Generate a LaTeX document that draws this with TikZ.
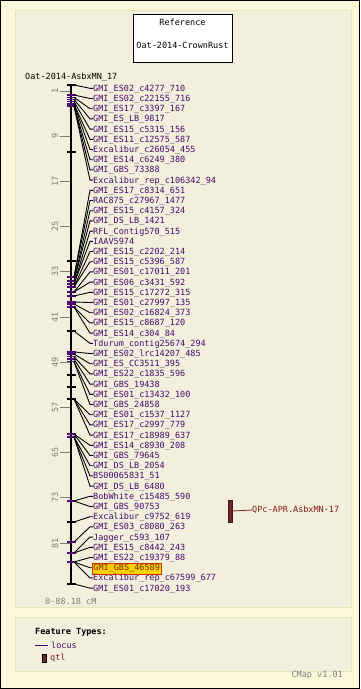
\documentclass[tikz,border=0pt]{standalone}
\usepackage{fontspec}
\setmonofont{DejaVu Sans Mono}
\usetikzlibrary{calc}
\definecolor{outerbg}{RGB}{252,249,218}
\definecolor{innerbg}{RGB}{242,240,221}
\definecolor{innerborder}{RGB}{232,228,184}
\definecolor{locuscol}{RGB}{70,10,110}
\definecolor{tickcol}{RGB}{80,10,120}
\definecolor{scalecol}{RGB}{125,125,125}
\definecolor{qtlfill}{RGB}{110,40,40}
\definecolor{qtltext}{RGB}{130,30,20}
\definecolor{hlfill}{RGB}{250,210,0}
\definecolor{hlborder}{RGB}{210,50,0}
\tikzset{
  txt/.style={font=\ttfamily\fontsize{8.5}{9}\selectfont, inner sep=0pt},
  lbl/.style={txt, text=locuscol, anchor=base west},
  conn/.style={draw=black, line width=0.9pt},
  scalelbl/.style={txt, text=scalecol, rotate=90},
  scaletick/.style={draw=scalecol, line width=0.8pt},
  locustick/.style={draw=tickcol, line width=1.1pt},
  blacktick/.style={draw=black, line width=1.1pt},
  panel/.style={fill=innerbg, draw=innerborder, line width=1pt},
}
\begin{document}
\begin{tikzpicture}[x=1pt,y=-1pt]
\useasboundingbox (0,0) rectangle (360,689);
\fill[outerbg] (0,0) rectangle (360,689);
\draw[black, line width=1pt] (0.5,0.5) rectangle (359.5,688.5);
\draw[panel] (15,10) rectangle (351,607);
\draw[panel] (15,617) rectangle (351,671);

% reference box
\node[draw=black, fill=white, line width=0.8pt, minimum width=99pt, minimum height=48pt, inner sep=0pt] (refbox) at (182.5,38) {};
\node[txt] (reftitle) at (182.5,22) {Reference};
\node[txt] (refname) at (182.5,45) {Oat-2014-CrownRust};

% map title
\node[txt, anchor=west] (maptitle) at (25,77) {Oat-2014-AsbxMN\_17};

% scale
\foreach \v [count=\k from 0] in {1,9,17,25,33,41,49,57,65,73,81}{
  \pgfmathsetmacro\sy{91.05+45.2*\k}
  \coordinate (S\k) at (60,\sy);
  \draw[scaletick] (S\k) -- ++(10,0);
  \node[scalelbl] (SL\k) at (55,\sy) {\v};
}

% axis
\coordinate (axtop) at (71,85);
\coordinate (axbot) at (71,584);
\draw[black, line width=2pt] (axtop) -- (axbot);

% locus ticks
\foreach \ty in {95,97.3,99.3,101.7,104,106,277,281,284,287,292,296,302,304,307,352,354,356.7,359,361.7,434,437,501,542,553,562}{
  \draw[locustick] (67,\ty) -- (76,\ty);
}
\draw[tickcol, line width=2.5pt] (68,501) -- (74,501);
\foreach \ty in {85,152,261,331,375,387,399,522,584}{
  \draw[blacktick] (67,\ty) -- (76,\ty);
}

% loci labels and connectors
\foreach \i/\ty/\lab in {
1/85/GMI\_ES02\_c4277\_710,
2/95/GMI\_ES02\_c22155\_716,
3/97.3/GMI\_ES17\_c3397\_167,
4/99.3/GMI\_ES\_LB\_9817,
5/101.7/GMI\_ES15\_c5315\_156,
6/104/GMI\_ES11\_c12575\_587,
7/104/Excalibur\_c26054\_455,
8/106/GMI\_ES14\_c6249\_380,
9/106/GMI\_GBS\_73388,
10/106/Excalibur\_rep\_c106342\_94,
11/277/GMI\_ES17\_c8314\_651,
12/277/RAC875\_c27967\_1477,
13/281/GMI\_ES15\_c4157\_324,
14/281/GMI\_DS\_LB\_1421,
15/284/RFL\_Contig570\_515,
16/284/IAAV5974,
17/287/GMI\_ES15\_c2202\_214,
18/287/GMI\_ES15\_c5396\_587,
19/292/GMI\_ES01\_c17011\_201,
20/292/GMI\_ES06\_c3431\_592,
21/296/GMI\_ES15\_c17272\_315,
22/302/GMI\_ES01\_c27997\_135,
23/304/GMI\_ES02\_c16824\_373,
24/307/GMI\_ES15\_c8687\_120,
25/307/GMI\_ES14\_c304\_84,
26/331/Tdurum\_contig25674\_294,
27/352/GMI\_ES02\_lrc14207\_485,
28/354/GMI\_ES\_CC3511\_395,
29/356.7/GMI\_ES22\_c1835\_596,
30/359/GMI\_GBS\_19438,
31/361.7/GMI\_ES01\_c13432\_100,
32/361.7/GMI\_GBS\_24858,
33/399/GMI\_ES01\_c1537\_1127,
34/399/GMI\_ES17\_c2997\_779,
35/399/GMI\_ES17\_c18989\_637,
36/434/GMI\_ES14\_c8930\_208,
37/434/GMI\_GBS\_79645,
38/437/GMI\_DS\_LB\_2054,
39/437/BS00065831\_51,
40/437/GMI\_DS\_LB\_6480,
41/501/BobWhite\_c15485\_590,
42/501/GMI\_GBS\_90753,
43/522/Excalibur\_c9752\_619,
44/542/GMI\_ES03\_c8080\_263,
45/553/Jagger\_c593\_107,
46/553/GMI\_ES15\_c8442\_243,
47/562/GMI\_ES22\_c19379\_88,
48/562/GMI\_GBS\_46589,
49/562/Excalibur\_rep\_c67599\_677,
50/584/GMI\_ES01\_c17020\_193}{
  \pgfmathsetmacro\ly{88.3+(\i-1)*10.2}
  \coordinate (T\i) at (74,\ty);
  \coordinate (C\i) at (90,\ly);
  \ifnum\i=48
    \node[lbl, fill=hlfill, draw=hlborder, line width=0.8pt, inner xsep=1pt, inner ysep=1.2pt, text=qtltext] (L\i) at (92,\ly+3) {\lab};
  \else
    \node[lbl] (L\i) at (93,\ly+3) {\lab};
  \fi
  \draw[conn] (T\i) -- (C\i) -- (C\i -| L\i.west);
}

% qtl
\node[draw=qtlfill!60!black, fill=qtlfill, minimum width=4pt, minimum height=22pt, inner sep=0pt, line width=0.6pt] (Q) at (230,511) {};
\node[txt, text=qtltext, anchor=west] (QL) at (252,510) {QPc-APR.AsbxMN-17};
\draw[qtltext, line width=0.8pt] (Q.east) -- (QL.west);

\node[txt, text=scalecol, anchor=west] (range) at (45,601) {0-88.18 cM};

% legend
\node[txt, anchor=west, font=\ttfamily\bfseries\fontsize{8.5}{9}\selectfont] (ft) at (35,632) {Feature Types:};
\coordinate (lc1) at (35,645);
\node[txt, text=locuscol, anchor=west] (lclbl) at (51,645) {locus};
\draw[locuscol, line width=0.9pt] (lc1) -- ([xshift=-3pt]lclbl.west);
\node[draw=black, fill=qtlfill, minimum width=4pt, minimum height=8pt, inner sep=0pt, line width=0.4pt] (lq) at (44,658) {};
\node[txt, text=qtltext, anchor=west] (lqlbl) at (50,658) {qtl};
\node[txt, text=scalecol, anchor=east] (ver) at (343,675) {CMap v1.01};
\end{tikzpicture}
\end{document}
